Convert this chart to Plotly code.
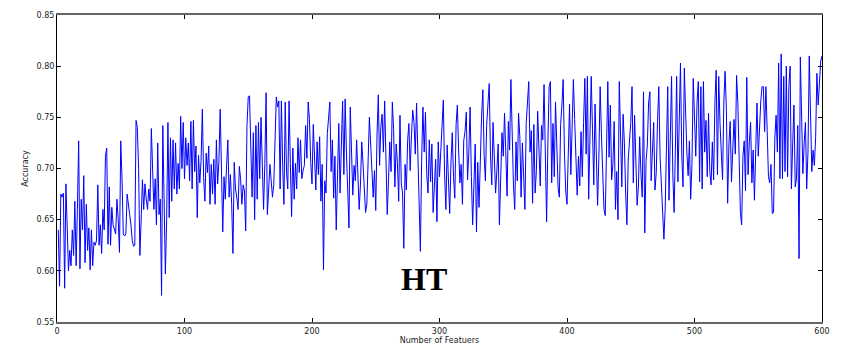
import plotly.graph_objects as go

# Accuracy for number of features 1..600
accuracy = [
    0.640, 0.585, 0.675, 0.672, 0.676, 0.583, 0.685, 0.640, 0.600, 0.620,
    0.605, 0.640, 0.615, 0.668, 0.605, 0.660, 0.727, 0.602, 0.670, 0.640,
    0.693, 0.608, 0.665, 0.620, 0.642, 0.601, 0.640, 0.605, 0.628, 0.625,
    0.630, 0.684, 0.625, 0.645, 0.617, 0.660, 0.640, 0.712, 0.720, 0.626,
    0.682, 0.625, 0.662, 0.645, 0.640, 0.636, 0.670, 0.650, 0.618, 0.727,
    0.690, 0.636, 0.634, 0.636, 0.675, 0.662, 0.655, 0.645, 0.630, 0.624,
    0.625, 0.747, 0.740, 0.700, 0.615, 0.650, 0.689, 0.660, 0.685, 0.670,
    0.660, 0.680, 0.668, 0.739, 0.700, 0.660, 0.690, 0.645, 0.725, 0.655,
    0.670, 0.576, 0.742, 0.660, 0.597, 0.650, 0.745, 0.652, 0.730, 0.668,
    0.728, 0.680, 0.725, 0.675, 0.705, 0.680, 0.751, 0.700, 0.745, 0.690,
    0.730, 0.703, 0.725, 0.688, 0.746, 0.680, 0.747, 0.697, 0.722, 0.652,
    0.713, 0.686, 0.708, 0.758, 0.691, 0.668, 0.715, 0.696, 0.722, 0.665,
    0.704, 0.675, 0.709, 0.665, 0.728, 0.685, 0.707, 0.758, 0.697, 0.638,
    0.692, 0.670, 0.703, 0.728, 0.672, 0.694, 0.665, 0.617, 0.706, 0.680,
    0.672, 0.660, 0.702, 0.690, 0.665, 0.684, 0.678, 0.639, 0.742, 0.770,
    0.771, 0.703, 0.672, 0.735, 0.650, 0.742, 0.670, 0.745, 0.690, 0.750,
    0.698, 0.660, 0.705, 0.774, 0.655, 0.680, 0.704, 0.688, 0.672, 0.684,
    0.740, 0.770, 0.760, 0.766, 0.680, 0.766, 0.702, 0.665, 0.765, 0.697,
    0.680, 0.766, 0.705, 0.653, 0.720, 0.670, 0.705, 0.680, 0.730, 0.696,
    0.728, 0.690, 0.698, 0.703, 0.742, 0.710, 0.765, 0.748, 0.706, 0.685,
    0.743, 0.712, 0.679, 0.726, 0.694, 0.731, 0.668, 0.704, 0.601, 0.688,
    0.676, 0.734, 0.752, 0.765, 0.697, 0.728, 0.671, 0.712, 0.640, 0.707,
    0.744, 0.676, 0.735, 0.766, 0.694, 0.768, 0.716, 0.683, 0.642, 0.760,
    0.709, 0.674, 0.703, 0.688, 0.728, 0.697, 0.660, 0.684, 0.726, 0.705,
    0.681, 0.657, 0.665, 0.713, 0.750, 0.724, 0.692, 0.672, 0.698, 0.659,
    0.733, 0.772, 0.703, 0.741, 0.753, 0.716, 0.766, 0.694, 0.655, 0.688,
    0.726, 0.697, 0.765, 0.738, 0.682, 0.724, 0.706, 0.668, 0.752, 0.686,
    0.676, 0.622, 0.704, 0.679, 0.727, 0.744, 0.698, 0.732, 0.757, 0.745,
    0.714, 0.764, 0.717, 0.693, 0.619, 0.708, 0.760, 0.716, 0.755, 0.694,
    0.676, 0.728, 0.687, 0.724, 0.657, 0.683, 0.709, 0.648, 0.726, 0.692,
    0.718, 0.752, 0.767, 0.694, 0.660, 0.723, 0.677, 0.656, 0.706, 0.735,
    0.692, 0.671, 0.743, 0.762, 0.718, 0.686, 0.704, 0.665, 0.727, 0.736,
    0.755, 0.689, 0.716, 0.760, 0.692, 0.645, 0.684, 0.724, 0.638, 0.706,
    0.662, 0.717, 0.751, 0.777, 0.713, 0.688, 0.742, 0.763, 0.783, 0.712,
    0.684, 0.745, 0.716, 0.676, 0.698, 0.724, 0.645, 0.703, 0.735, 0.712,
    0.754, 0.715, 0.673, 0.746, 0.718, 0.787, 0.727, 0.684, 0.660, 0.726,
    0.688, 0.754, 0.731, 0.672, 0.725, 0.684, 0.660, 0.744, 0.762, 0.785,
    0.716, 0.737, 0.666, 0.743, 0.676, 0.698, 0.756, 0.715, 0.683, 0.742,
    0.728, 0.782, 0.693, 0.648, 0.724, 0.780, 0.785, 0.686, 0.744, 0.692,
    0.765, 0.712, 0.681, 0.672, 0.743, 0.762, 0.787, 0.716, 0.678, 0.665,
    0.727, 0.763, 0.694, 0.741, 0.787, 0.748, 0.709, 0.674, 0.712, 0.683,
    0.736, 0.692, 0.745, 0.788, 0.714, 0.790, 0.670, 0.725, 0.790, 0.738,
    0.684, 0.763, 0.708, 0.664, 0.712, 0.780, 0.734, 0.688, 0.660, 0.654,
    0.716, 0.785, 0.711, 0.762, 0.689, 0.704, 0.746, 0.660, 0.697, 0.650,
    0.785, 0.716, 0.682, 0.753, 0.725, 0.676, 0.645, 0.708, 0.727, 0.745,
    0.780, 0.686, 0.752, 0.713, 0.664, 0.682, 0.731, 0.695, 0.672, 0.775,
    0.637, 0.707, 0.723, 0.764, 0.775, 0.688, 0.728, 0.745, 0.679, 0.696,
    0.746, 0.780, 0.712, 0.684, 0.668, 0.631, 0.660, 0.726, 0.780, 0.669,
    0.731, 0.790, 0.694, 0.657, 0.718, 0.790, 0.687, 0.764, 0.803, 0.713,
    0.682, 0.798, 0.742, 0.716, 0.693, 0.727, 0.670, 0.704, 0.788, 0.738,
    0.712, 0.765, 0.785, 0.687, 0.780, 0.680, 0.785, 0.716, 0.747, 0.692,
    0.754, 0.697, 0.684, 0.726, 0.689, 0.764, 0.796, 0.694, 0.790, 0.744,
    0.712, 0.689, 0.765, 0.795, 0.758, 0.666, 0.724, 0.746, 0.687, 0.717,
    0.748, 0.714, 0.791, 0.764, 0.688, 0.657, 0.645, 0.712, 0.727, 0.678,
    0.789, 0.694, 0.726, 0.745, 0.686, 0.718, 0.669, 0.734, 0.764, 0.712,
    0.744, 0.766, 0.780, 0.780, 0.736, 0.780, 0.737, 0.692, 0.686, 0.704,
    0.656, 0.657, 0.730, 0.752, 0.716, 0.803, 0.690, 0.812, 0.690, 0.790,
    0.697, 0.800, 0.692, 0.780, 0.800, 0.680, 0.724, 0.762, 0.682, 0.690,
    0.742, 0.612, 0.809, 0.761, 0.695, 0.724, 0.745, 0.680, 0.716, 0.810,
    0.731, 0.697, 0.718, 0.703, 0.730, 0.793, 0.762, 0.780, 0.805, 0.810,
]
num_features = list(range(1, len(accuracy) + 1))

x_ticks = [0, 100, 200, 300, 400, 500, 600]
y_ticks = [0.55, 0.60, 0.65, 0.70, 0.75, 0.80, 0.85]
label_text = "HT"
label_pos = (288, 0.592)

fig = go.Figure()
fig.add_trace(go.Scatter(
    x=num_features, y=accuracy, mode="lines",
    line=dict(color="#0000ff", width=1),
    showlegend=False, hoverinfo="skip",
))

fig.add_annotation(
    x=label_pos[0], y=label_pos[1], xref="x", yref="y",
    text="<b>" + label_text + "</b>", showarrow=False,
    font=dict(family="Liberation Serif", size=32, color="black"),
)

axis_font = dict(family="DejaVu Sans", size=8, color="#222222")

fig.update_layout(
    width=843, height=360,
    margin=dict(l=57, r=21, t=15, b=38),
    paper_bgcolor="white", plot_bgcolor="white",
    font=axis_font,
    xaxis=dict(
        range=[0, 600], tickvals=x_ticks, ticktext=[str(v) for v in x_ticks],
        showgrid=False, zeroline=False,
        showline=True, linecolor="#666666", linewidth=2, mirror="allticks",
        ticks="inside", ticklen=4, tickcolor="black", tickwidth=1,
        tickfont=axis_font,
        title=dict(text="Number of Featuers", font=axis_font, standoff=3),
    ),
    yaxis=dict(
        range=[0.55, 0.85], tickvals=y_ticks, ticktext=[f"{v:.2f}" for v in y_ticks],
        showgrid=False, zeroline=False,
        showline=True, linecolor="black", linewidth=1, mirror="allticks",
        ticks="inside", ticklen=4, tickcolor="black", tickwidth=1,
        tickfont=axis_font,
        title=dict(text="Accuracy", font=axis_font, standoff=6),
    ),
)

fig.write_html("out.html")
